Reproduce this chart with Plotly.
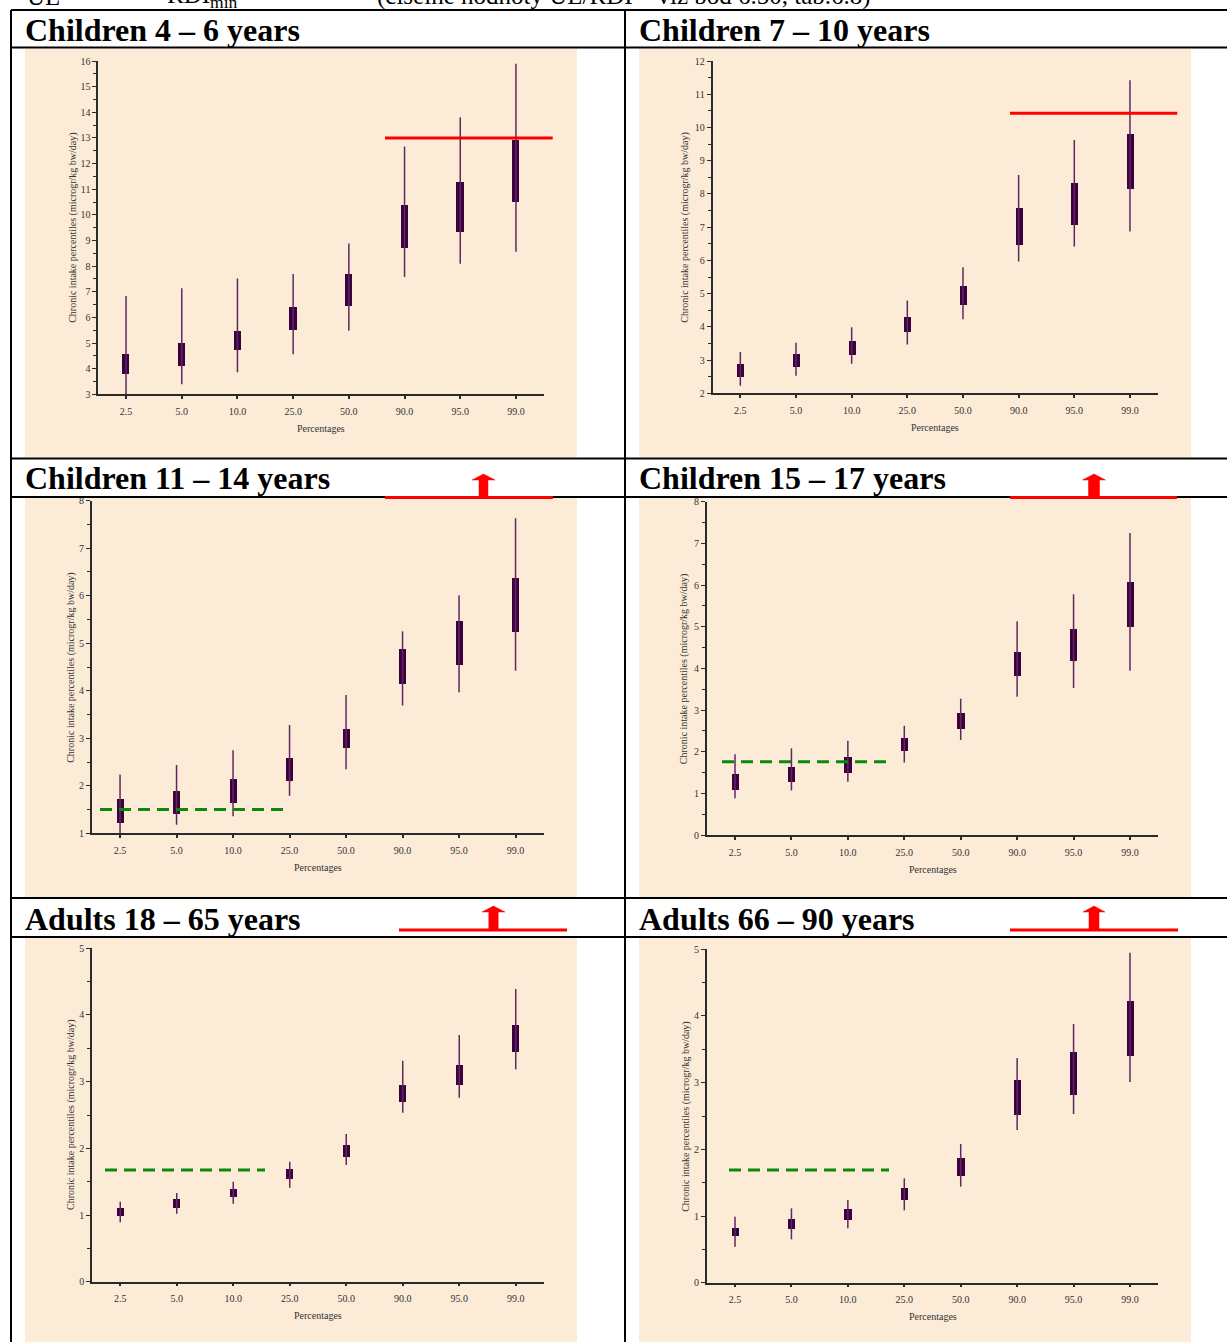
import plotly.graph_objects as go

W, H = 1227, 1342

categories = ["2.5", "5.0", "10.0", "25.0", "50.0", "90.0", "95.0", "99.0"]

titles = ["Children 4 – 6 years", "Children 7 – 10 years",
          "Children 11 – 14 years", "Children 15 – 17 years",
          "Adults 18 – 65 years", "Adults 66 – 90 years"]

# Children 4-6
c46_low = [3.0, 3.39, 3.86, 4.56, 5.48, 7.58, 8.09, 8.56]
c46_q1 = [3.78, 4.12, 4.74, 5.52, 6.45, 8.71, 9.34, 10.50]
c46_q3 = [4.57, 5.00, 5.47, 6.40, 7.69, 10.37, 11.27, 12.93]
c46_high = [6.83, 7.14, 7.52, 7.69, 8.88, 12.67, 13.81, 15.89]

# Children 7-10
c710_low = [2.23, 2.53, 2.89, 3.47, 4.23, 5.97, 6.42, 6.87]
c710_q1 = [2.50, 2.80, 3.16, 3.83, 4.67, 6.47, 7.07, 8.16]
c710_q3 = [2.88, 3.19, 3.57, 4.31, 5.24, 7.58, 8.33, 9.80]
c710_high = [3.24, 3.52, 3.99, 4.79, 5.79, 8.57, 9.62, 11.42]

# Children 11-14
c1114_low = [1.0, 1.18, 1.36, 1.79, 2.35, 3.69, 3.97, 4.42]
c1114_q1 = [1.22, 1.41, 1.65, 2.11, 2.80, 4.15, 4.55, 5.24]
c1114_q3 = [1.72, 1.90, 2.14, 2.60, 3.20, 4.88, 5.47, 6.37]
c1114_high = [2.24, 2.44, 2.75, 3.28, 3.91, 5.25, 6.01, 7.63]

# Children 15-17
c1517_low = [0.88, 1.07, 1.28, 1.74, 2.28, 3.32, 3.53, 3.94]
c1517_q1 = [1.08, 1.28, 1.50, 2.02, 2.55, 3.82, 4.18, 5.00]
c1517_q3 = [1.46, 1.65, 1.88, 2.34, 2.94, 4.39, 4.94, 6.07]
c1517_high = [1.94, 2.08, 2.26, 2.62, 3.27, 5.13, 5.78, 7.25]

# Adults 18-65
a1865_low = [0.89, 1.02, 1.17, 1.41, 1.75, 2.535, 2.76, 3.185]
a1865_q1 = [0.975, 1.10, 1.26, 1.535, 1.86, 2.685, 2.94, 3.435]
a1865_q3 = [1.10, 1.24, 1.39, 1.69, 2.05, 2.945, 3.24, 3.84]
a1865_high = [1.20, 1.33, 1.50, 1.80, 2.215, 3.315, 3.70, 4.39]

# Adults 66-90
a6690_low = [0.54, 0.65, 0.815, 1.085, 1.44, 2.29, 2.53, 3.01]
a6690_q1 = [0.69, 0.805, 0.94, 1.23, 1.59, 2.51, 2.81, 3.40]
a6690_q3 = [0.815, 0.955, 1.10, 1.415, 1.87, 3.04, 3.46, 4.22]
a6690_high = [0.99, 1.115, 1.24, 1.565, 2.08, 3.37, 3.88, 4.95]

# reference levels (microgr/kg bw/day)
ul_levels = [13.0, 10.43, None, None, None, None]
rdi_levels = [1.78, 1.75, 1.50, 1.76, 1.675, 1.69]

y_ranges = [[3, 16], [2, 12], [1, 8], [0, 8], [0, 5], [0, 5]]

series = [
    (c46_low, c46_q1, c46_q3, c46_high),
    (c710_low, c710_q1, c710_q3, c710_high),
    (c1114_low, c1114_q1, c1114_q3, c1114_high),
    (c1517_low, c1517_q1, c1517_q3, c1517_high),
    (a1865_low, a1865_q1, a1865_q3, a1865_high),
    (a6690_low, a6690_q1, a6690_q3, a6690_high),
]

# ---------------- layout geometry (pixels) ----------------
def px(x):
    return x / W

def py(y):
    return 1 - y / H

# plot area (x_left, x_right, y_top, y_bottom) in pixels
plot_boxes = [
    (98.2, 543.8, 61.0, 394.3),
    (712.5, 1157.8, 61.0, 393.3),
    (91.8, 543.8, 500.7, 833.3),
    (706.8, 1158.2, 501.7, 835.0),
    (92.0, 544.0, 948.3, 1281.7),
    (706.8, 1158.2, 949.3, 1282.7),
]
tan_boxes = [(25, 49, 577, 457), (639, 49, 1191, 457),
             (25, 498, 577, 897), (639, 498, 1191, 897),
             (25, 938, 577, 1342), (639, 938, 1191, 1342)]
title_pos = [(23, 29.5), (637, 29.5), (23, 478), (637, 478), (23, 918.5), (637, 918.5)]
ytitle_shift = [-26, -27, -21, -22, -21, -21]
green_x = [(105, 265), (729, 889), (100, 290), (722, 889), (105, 265), (729, 889)]
red_x = [(385, 552.7), (1010, 1177.3)]
arrows = [  # cx, apex, head base, shaft bottom, half head, half shaft, line y, line x0, x1
    (483.5, 474, 480, 497, 11.5, 4.5, 497.5, 385, 553),
    (1094, 474, 480, 497, 11.5, 5.5, 497.5, 1010, 1177),
    (493.5, 906, 912, 929, 11.5, 4.7, 930, 399, 567),
    (1094, 906, 912, 929, 11.0, 5.0, 930, 1010, 1178),
]

FONT = "Liberation Serif"
BOX_COLOR = "#3b0040"
WHISK_COLOR = "#5e2a5c"
AX_COLOR = "#2a2a2a"

fig = go.Figure()
shapes = []
annotations = []

for k, rect in enumerate(tan_boxes):
    x0, y0, x1, y1 = rect
    shapes.append(dict(type="rect", xref="paper", yref="paper", layer="below",
                       x0=px(x0), x1=px(x1), y0=py(y1), y1=py(y0),
                       fillcolor="#fcebd7", line=dict(width=0)))

idx = list(range(len(categories)))

for i in range(6):
    n = i + 1
    xa = "x" if n == 1 else f"x{n}"
    ya = "y" if n == 1 else f"y{n}"
    low, q1, q3, high = series[i]

    wx, wy = [], []
    for j in idx:
        wx += [j, j, None]
        wy += [low[j], high[j], None]
    fig.add_trace(go.Scatter(x=wx, y=wy, mode="lines", xaxis=xa, yaxis=ya,
                             line=dict(color=WHISK_COLOR, width=1.5),
                             showlegend=False, hoverinfo="skip"))
    fig.add_trace(go.Bar(x=idx, y=[b - a for a, b in zip(q1, q3)], base=q1,
                         width=0.13, xaxis=xa, yaxis=ya,
                         marker=dict(color=BOX_COLOR, line=dict(width=0)),
                         showlegend=False))

    xl, xr, yt, yb = plot_boxes[i]
    fig.layout[f"xaxis{'' if n == 1 else n}"] = dict(
        domain=[px(xl), px(xr)], range=[-0.5, 7.5], anchor=ya, automargin=False,
        tickmode="array", tickvals=idx, ticktext=categories,
        showline=True, linecolor=AX_COLOR, linewidth=1.5,
        ticks="outside", ticklen=3, tickwidth=1.5, tickcolor=AX_COLOR,
        ticklabelstandoff=4,
        tickfont=dict(family=FONT, size=10, color="#333"),
        showgrid=False, zeroline=False, fixedrange=True)
    fig.layout[f"yaxis{'' if n == 1 else n}"] = dict(
        domain=[py(yb), py(yt)], range=y_ranges[i], anchor=xa, automargin=False,
        tickmode="linear", tick0=0, dtick=1,
        showline=True, linecolor=AX_COLOR, linewidth=1.5,
        ticks="outside", ticklen=4, tickwidth=1.2, tickcolor=AX_COLOR,
        minor=dict(ticks="outside", ticklen=3, dtick=0.5, tick0=0,
                   tickcolor=AX_COLOR, tickwidth=1, showgrid=False),
        tickfont=dict(family=FONT, size=10, color="#333"),
        showgrid=False, zeroline=False, fixedrange=True)

    # axis titles
    annotations.append(dict(text="Chronic intake percentiles (microgr/kg bw/day)",
                            xref=f"{xa} domain", yref=f"{ya} domain",
                            x=0, y=0.5, xshift=ytitle_shift[i], textangle=-90,
                            showarrow=False, xanchor="center", yanchor="middle",
                            font=dict(family=FONT, size=10, color="#333")))
    annotations.append(dict(text="Percentages", xref=f"{xa} domain", yref=f"{ya} domain",
                            x=0.5, y=0, yshift=-34, showarrow=False,
                            xanchor="center", yanchor="middle",
                            font=dict(family=FONT, size=10, color="#333")))
    # panel title
    tx, ty = title_pos[i]
    annotations.append(dict(text=f"<b>{titles[i]}</b>", xref="paper", yref="paper",
                            x=px(tx), y=py(ty), showarrow=False,
                            xanchor="left", yanchor="middle",
                            font=dict(family=FONT, size=32, color="black")))

    # RDI level (green dashed)
    g0, g1 = green_x[i]
    shapes.append(dict(type="line", xref="paper", yref=ya,
                       x0=px(g0), x1=px(g1), y0=rdi_levels[i], y1=rdi_levels[i],
                       line=dict(color="#0a8a0a", width=3, dash="12px,7px")))
    # UL level (red)
    if ul_levels[i] is not None:
        r0, r1 = red_x[i]
        shapes.append(dict(type="line", xref="paper", yref=ya,
                           x0=px(r0), x1=px(r1), y0=ul_levels[i], y1=ul_levels[i],
                           line=dict(color="#ff0000", width=3)))

# table grid lines
for yy in [10, 47.5, 458.5, 497, 898, 937]:
    shapes.append(dict(type="line", xref="paper", yref="paper",
                       x0=px(11), x1=px(1227), y0=py(yy), y1=py(yy),
                       line=dict(color="black", width=2)))
for xx in [11, 625]:
    shapes.append(dict(type="line", xref="paper", yref="paper",
                       x0=px(xx), x1=px(xx), y0=py(10), y1=py(1342),
                       line=dict(color="black", width=2)))

# UL above scale: red line + up arrow
for cx, ya_, yb_, ys_, hw, sw, ly, lx0, lx1 in arrows:
    shapes.append(dict(type="line", xref="paper", yref="paper",
                       x0=px(lx0), x1=px(lx1), y0=py(ly), y1=py(ly),
                       line=dict(color="#ff0000", width=3)))
    pts = [(cx, ya_), (cx + hw, yb_), (cx + sw, yb_), (cx + sw, ys_),
           (cx - sw, ys_), (cx - sw, yb_), (cx - hw, yb_)]
    path = "M " + " L ".join(f"{px(a):.5f},{py(b):.5f}" for a, b in pts) + " Z"
    shapes.append(dict(type="path", xref="paper", yref="paper", path=path,
                       fillcolor="#ff0000", line=dict(color="#ff0000", width=0.5)))

# top text line (cut off by page edge)
for txt, xx in [("UL", 25), ("RDI<sub>min</sub>", 165),
                ("(číselné hodnoty UL/RDI – viz bod 6.50, tab.6.8)", 375)]:
    annotations.append(dict(text=txt, xref="paper", yref="paper",
                            x=px(xx), y=py(-4), showarrow=False,
                            xanchor="left", yanchor="middle",
                            font=dict(family=FONT, size=25, color="black")))

fig.update_layout(width=W, height=H, margin=dict(l=0, r=0, t=0, b=0, autoexpand=False),
                  paper_bgcolor="white", plot_bgcolor="rgba(0,0,0,0)",
                  shapes=shapes, annotations=annotations, showlegend=False,
                  barmode="overlay", bargap=0)

fig.write_html("out.html")
